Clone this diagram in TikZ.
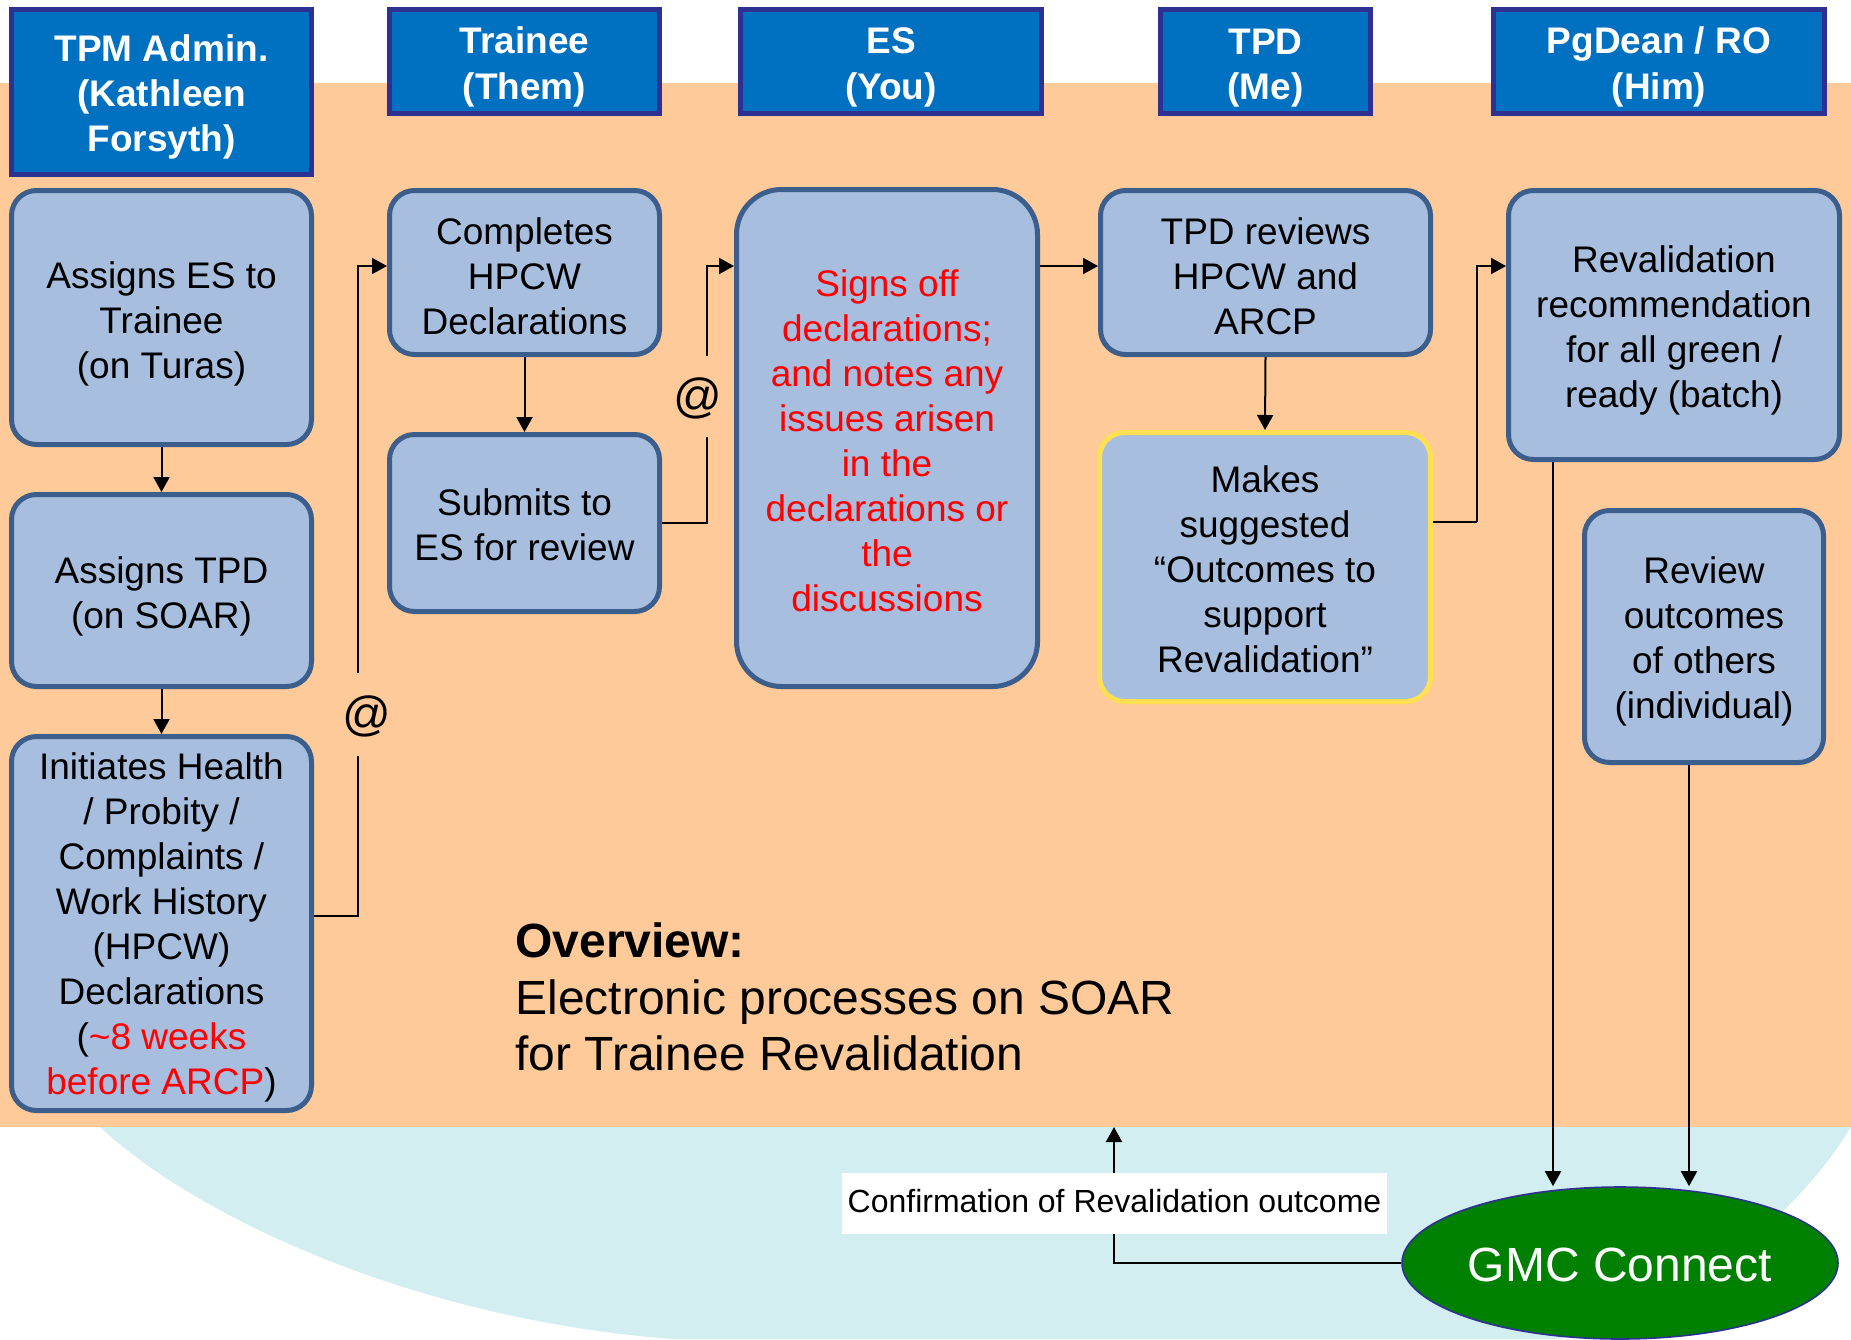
\documentclass[tikz,border=0pt]{standalone}
\usepackage{fontspec}
\setmainfont{Liberation Sans}
\usetikzlibrary{arrows.meta,shapes.geometric}
\definecolor{bgorange}{HTML}{FFCA99}
\definecolor{bgcyan}{HTML}{D2EEF0}
\definecolor{boxfill}{HTML}{A7BEDE}
\definecolor{boxline}{HTML}{3B5E8C}
\definecolor{hdrfill}{HTML}{0070C0}
\definecolor{hdrline}{HTML}{2E3192}
\definecolor{ylw}{HTML}{FFE053}
\definecolor{gmcgreen}{HTML}{008000}
\begin{document}
\begin{tikzpicture}[x=0.5pt,y=-0.5pt,
  hdr/.style={fill=hdrfill, draw=hdrline, line width=2.5pt, inner sep=0pt},
  hdrtxt/.style={text=white, inner sep=0pt, align=center, font=\bfseries\fontsize{18.5}{22.6}\selectfont},
  procbox/.style={fill=boxfill, draw=boxline, line width=2.5pt, rounded corners=12.5pt, inner sep=0pt},
  btxt/.style={inner sep=0pt, align=center, font=\fontsize{18.5}{22.5}\selectfont},
  ln/.style={line width=1pt, draw=black},
  arr/.style={line width=1pt, draw=black, -{Triangle[length=7.5pt,width=8pt]}},
  atlbl/.style={inner sep=0pt, font=\fontsize{24}{28}\selectfont},
]
\useasboundingbox (0,0) rectangle (1851,1339);
\fill[white] (0,0) rectangle (1851,1339);
\fill[bgorange] (0,83) rectangle (1851,1127);
\fill[bgcyan] (100,1127) -- (1851,1127) .. controls (1800,1210) and (1700,1300) .. (1560,1339)
  -- (673,1339) .. controls (420,1320) and (200,1220) .. (100,1127) -- cycle;

% headers
\node[hdr, minimum width=150pt, minimum height=82.5pt] (h1) at (161.5,92) {};
\node[hdr, minimum width=135pt, minimum height=52pt] (h2) at (524.5,61.5) {};
\node[hdr, minimum width=150.5pt, minimum height=52pt] (h3) at (891,61.5) {};
\node[hdr, minimum width=105pt, minimum height=52pt] (h4) at (1265.5,61.5) {};
\node[hdr, minimum width=165.5pt, minimum height=52pt] (h5) at (1659,61.5) {};
\node[hdrtxt] (h1t) at ([yshift=-2.4pt]h1.center) {TPM Admin.\\(Kathleen\\Forsyth)};
\node[hdrtxt] (h2t) at ([yshift=-2.7pt]h2.center) {Trainee\\(Them)};
\node[hdrtxt] (h3t) at ([yshift=-3pt]h3.center) {ES\\(You)};
\node[hdrtxt] (h4t) at ([yshift=-3.2pt]h4.center) {TPD\\(Me)};
\node[hdrtxt] (h5t) at ([yshift=-2.7pt]h5.center) {PgDean / RO\\(Him)};

% process boxes
\node[procbox, minimum width=150pt, minimum height=127pt] (b1) at (161.5,317.5) {};
\node[procbox, minimum width=150pt, minimum height=96pt] (b2) at (161.5,590.5) {};
\node[procbox, minimum width=150pt, minimum height=187pt] (b3) at (161.5,923.5) {};
\node[procbox, minimum width=135pt, minimum height=82pt] (b4) at (524.5,272.5) {};
\node[procbox, minimum width=135pt, minimum height=88.5pt] (b5) at (524.5,523) {};
\node[procbox, rounded corners=22.5pt, minimum width=150.5pt, minimum height=248.5pt] (b6) at (887,438) {};
\node[procbox, minimum width=165pt, minimum height=82pt] (b7) at (1265.5,272.5) {};
\node[procbox, draw=ylw, minimum width=165.5pt, minimum height=134.5pt] (b8) at (1265,567) {};
\node[procbox, minimum width=165.5pt, minimum height=134.5pt] (b9) at (1674,325) {};
\node[procbox, minimum width=119.5pt, minimum height=126pt] (b10) at (1704,636.5) {};

\node[btxt] (b1t) at ([yshift=-3pt]b1.center) {Assigns ES to\\Trainee\\(on Turas)};
\node[btxt] (b2t) at ([yshift=-3pt]b2.center) {Assigns TPD\\(on SOAR)};
\node[btxt] (b3t) at ([yshift=-2pt]b3.center) {Initiates Health\\/ Probity /\\Complaints /\\Work History\\(HPCW)\\Declarations\\(\textcolor{red}{\textasciitilde8 weeks}\\\textcolor{red}{before ARCP})};
\node[btxt] (b4t) at ([yshift=-1.8pt]b4.center) {Completes\\HPCW\\Declarations};
\node[btxt] (b5t) at ([yshift=-1pt]b5.center) {Submits to\\ES for review};
\node[btxt, text=red] (b6t) at ([yshift=-1.5pt]b6.center) {Signs off\\declarations;\\and notes any\\issues arisen\\in the\\declarations or\\the\\discussions};
\node[btxt] (b7t) at ([yshift=-1.8pt]b7.center) {TPD reviews\\HPCW and\\ARCP};
\node[btxt] (b8t) at ([yshift=-1.2pt]b8.center) {Makes\\suggested\\“Outcomes to\\support\\Revalidation”};
\node[btxt] (b9t) at ([yshift=-2.7pt]b9.center) {Revalidation\\recommendation\\for all green /\\ready (batch)};
\node[btxt] (b10t) at ([yshift=-2.4pt]b10.center) {Review\\outcomes\\of others\\(individual)};

% GMC
\node[ellipse, fill=gmcgreen, draw=hdrline, line width=0.8pt, inner sep=0pt,
  minimum width=218pt, minimum height=76pt] (gmc) at (1620,1263) {};
\node[inner sep=0pt, text=white, font=\fontsize{24}{28}\selectfont] (gmct) at ([yshift=-1.2pt]gmc.center) {GMC Connect};

% helper coordinates
\coordinate (s1) at (0,266);
\coordinate (i1) at (0,916);
\coordinate (a1s) at (358,756);
\coordinate (a1n) at (358,673);
\coordinate (a2s) at (707,437);
\coordinate (a2n) at (707,356);
\coordinate (m1) at (1477,522);
\coordinate (m2) at (1477,266);
\coordinate (xa) at (1553,0);
\coordinate (xb) at (1689,0);
\coordinate (conf) at (1114,1127);

% @ labels
\node[atlbl] (at1) at (367,716) {@};
\node[atlbl] (at2) at (698,398) {@};

% connectors
\draw[arr] (b1.south) -- (b2.north);
\draw[arr] (b2.south) -- (b3.north);
\draw[ln] (b3.east |- i1) -| (a1s);
\draw[arr] (a1n) |- (b4.west |- s1);
\draw[arr] (b4.south) -- (b5.north);
\draw[ln] (b5.east) -| (a2s);
\draw[arr] (a2n) |- (b6.west |- s1);
\draw[arr] (b6.east |- s1) -- (b7.west |- s1);
\draw[arr] (b7.south) -- (b8.north);
\draw[ln] (b8.east |- m1) -- (m1);
\draw[arr] (m1) -- (m2) -- (b9.west |- m2);
\draw[arr] (xa |- b9.south) -- (xa |- gmc.north);
\draw[arr] (xb |- b10.south) -- (xb |- gmc.north);
\draw[arr] (gmc.west) -| (conf);

\node[fill=white, inner sep=0pt, minimum width=272.5pt, minimum height=30.5pt] (clbl) at (1114.5,1203.5) {};
\node[inner sep=0pt, font=\fontsize{16}{19}\selectfont] (clblt) at ([yshift=1.2pt]clbl.center) {Confirmation of Revalidation outcome};

% overview
\node[anchor=west, align=left, inner sep=0pt, font=\fontsize{24}{28.3}\selectfont] (ov) at (515,997)
  {\textbf{Overview:}\\Electronic processes on SOAR\\for Trainee Revalidation};
\end{tikzpicture}
\end{document}
